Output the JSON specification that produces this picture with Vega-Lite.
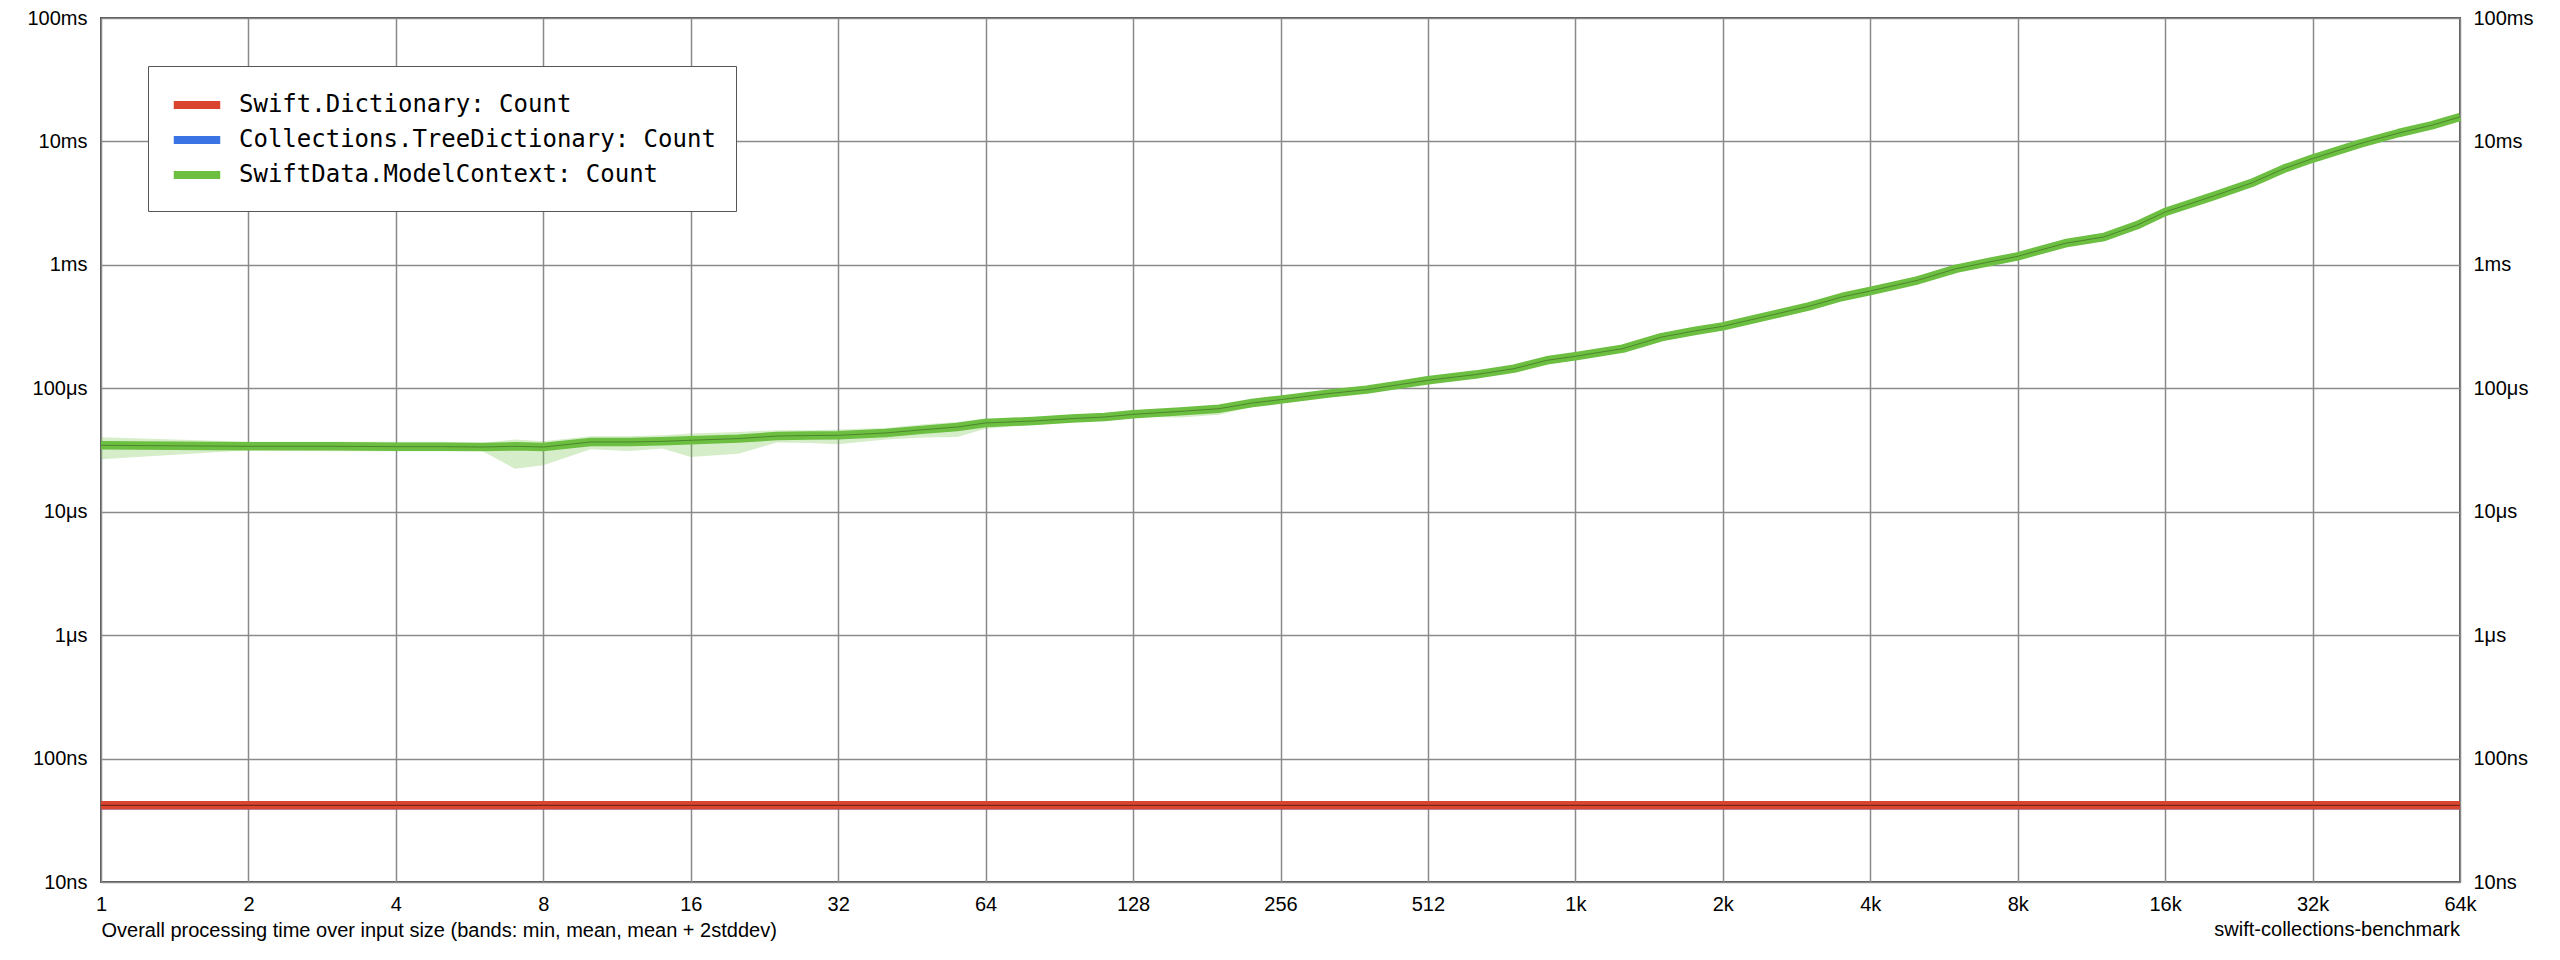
{
  "$schema": "https://vega.github.io/schema/vega-lite/v6.json",
  "width": 2359,
  "height": 864,
  "autosize": {"type": "none"},
  "padding": {"left": 101, "top": 18, "right": 100, "bottom": 78},
  "background": "white",
  "config": {
    "view": {"stroke": "#555", "strokeWidth": 2},
    "font": "Liberation Sans",
    "legend": {
      "orient": "none",
      "legendX": 47,
      "legendY": 48,
      "title": null,
      "fillColor": "white",
      "strokeColor": "#555",
      "padding": 20,
      "symbolType": "M-1.55,0H1.55",
      "symbolSize": 900,
      "symbolStrokeWidth": 8,
      "symbolOpacity": 1,
      "symbolOffset": 10,
      "labelOffset": 23,
      "rowPadding": 0,
      "labelFont": "DejaVu Sans Mono",
      "labelFontSize": 24,
      "labelColor": "#000",
      "labelLimit": 1000
    }
  },
  "title": {
    "text": "swift-collections-benchmark",
    "orient": "bottom",
    "anchor": "end",
    "frame": "group",
    "offset": -20,
    "fontSize": 20,
    "fontWeight": "normal",
    "font": "Liberation Sans",
    "color": "#000"
  },
  "data": {
    "values": [
      {"series": "Collections.TreeDictionary: Count", "n": 1, "mean": 41.8, "min": 41.0, "max": 42.6},
      {"series": "Collections.TreeDictionary: Count", "n": 2, "mean": 41.8, "min": 41.0, "max": 42.6},
      {"series": "Collections.TreeDictionary: Count", "n": 4, "mean": 41.8, "min": 41.0, "max": 42.6},
      {"series": "Collections.TreeDictionary: Count", "n": 8, "mean": 41.8, "min": 41.0, "max": 42.6},
      {"series": "Collections.TreeDictionary: Count", "n": 16, "mean": 41.8, "min": 41.0, "max": 42.6},
      {"series": "Collections.TreeDictionary: Count", "n": 32, "mean": 41.8, "min": 41.0, "max": 42.6},
      {"series": "Collections.TreeDictionary: Count", "n": 64, "mean": 41.8, "min": 41.0, "max": 42.6},
      {"series": "Collections.TreeDictionary: Count", "n": 128, "mean": 41.8, "min": 41.0, "max": 42.6},
      {"series": "Collections.TreeDictionary: Count", "n": 256, "mean": 41.8, "min": 41.0, "max": 42.6},
      {"series": "Collections.TreeDictionary: Count", "n": 512, "mean": 41.8, "min": 41.0, "max": 42.6},
      {"series": "Collections.TreeDictionary: Count", "n": 1024, "mean": 41.8, "min": 41.0, "max": 42.6},
      {"series": "Collections.TreeDictionary: Count", "n": 2048, "mean": 41.8, "min": 41.0, "max": 42.6},
      {"series": "Collections.TreeDictionary: Count", "n": 4096, "mean": 41.8, "min": 41.0, "max": 42.6},
      {"series": "Collections.TreeDictionary: Count", "n": 8192, "mean": 41.8, "min": 41.0, "max": 42.6},
      {"series": "Collections.TreeDictionary: Count", "n": 16384, "mean": 41.8, "min": 41.0, "max": 42.6},
      {"series": "Collections.TreeDictionary: Count", "n": 32768, "mean": 41.8, "min": 41.0, "max": 42.6},
      {"series": "Collections.TreeDictionary: Count", "n": 65536, "mean": 41.8, "min": 41.0, "max": 42.6},
      {"series": "Swift.Dictionary: Count", "n": 1, "mean": 41.8, "min": 41.0, "max": 42.6},
      {"series": "Swift.Dictionary: Count", "n": 2, "mean": 41.8, "min": 41.0, "max": 42.6},
      {"series": "Swift.Dictionary: Count", "n": 4, "mean": 41.8, "min": 41.0, "max": 42.6},
      {"series": "Swift.Dictionary: Count", "n": 8, "mean": 41.8, "min": 41.0, "max": 42.6},
      {"series": "Swift.Dictionary: Count", "n": 16, "mean": 41.8, "min": 41.0, "max": 42.6},
      {"series": "Swift.Dictionary: Count", "n": 32, "mean": 41.8, "min": 41.0, "max": 42.6},
      {"series": "Swift.Dictionary: Count", "n": 64, "mean": 41.8, "min": 41.0, "max": 42.6},
      {"series": "Swift.Dictionary: Count", "n": 128, "mean": 41.8, "min": 41.0, "max": 42.6},
      {"series": "Swift.Dictionary: Count", "n": 256, "mean": 41.8, "min": 41.0, "max": 42.6},
      {"series": "Swift.Dictionary: Count", "n": 512, "mean": 41.8, "min": 41.0, "max": 42.6},
      {"series": "Swift.Dictionary: Count", "n": 1024, "mean": 41.8, "min": 41.0, "max": 42.6},
      {"series": "Swift.Dictionary: Count", "n": 2048, "mean": 41.8, "min": 41.0, "max": 42.6},
      {"series": "Swift.Dictionary: Count", "n": 4096, "mean": 41.8, "min": 41.0, "max": 42.6},
      {"series": "Swift.Dictionary: Count", "n": 8192, "mean": 41.8, "min": 41.0, "max": 42.6},
      {"series": "Swift.Dictionary: Count", "n": 16384, "mean": 41.8, "min": 41.0, "max": 42.6},
      {"series": "Swift.Dictionary: Count", "n": 32768, "mean": 41.8, "min": 41.0, "max": 42.6},
      {"series": "Swift.Dictionary: Count", "n": 65536, "mean": 41.8, "min": 41.0, "max": 42.6},
      {"series": "SwiftData.ModelContext: Count", "n": 1, "mean": 34510, "min": 26600, "max": 40100},
      {"series": "SwiftData.ModelContext: Count", "n": 2, "mean": 33880, "min": 31500, "max": 36800},
      {"series": "SwiftData.ModelContext: Count", "n": 3, "mean": 33880, "min": 30860, "max": 36800},
      {"series": "SwiftData.ModelContext: Count", "n": 4, "mean": 33650, "min": 30860, "max": 36800},
      {"series": "SwiftData.ModelContext: Count", "n": 5, "mean": 33650, "min": 30860, "max": 36800},
      {"series": "SwiftData.ModelContext: Count", "n": 6, "mean": 33430, "min": 31050, "max": 36040},
      {"series": "SwiftData.ModelContext: Count", "n": 7, "mean": 33880, "min": 22340, "max": 38400},
      {"series": "SwiftData.ModelContext: Count", "n": 8, "mean": 33430, "min": 23770, "max": 37170},
      {"series": "SwiftData.ModelContext: Count", "n": 10, "mean": 36720, "min": 32050, "max": 40830},
      {"series": "SwiftData.ModelContext: Count", "n": 12, "mean": 36720, "min": 31050, "max": 40830},
      {"series": "SwiftData.ModelContext: Count", "n": 14, "mean": 37170, "min": 32460, "max": 41600},
      {"series": "SwiftData.ModelContext: Count", "n": 16, "mean": 37920, "min": 27730, "max": 42950},
      {"series": "SwiftData.ModelContext: Count", "n": 20, "mean": 39100, "min": 29550, "max": 44260},
      {"series": "SwiftData.ModelContext: Count", "n": 24, "mean": 41040, "min": 36310, "max": 45700},
      {"series": "SwiftData.ModelContext: Count", "n": 28, "mean": 41400, "min": 36040, "max": 45700},
      {"series": "SwiftData.ModelContext: Count", "n": 32, "mean": 41600, "min": 35140, "max": 46250},
      {"series": "SwiftData.ModelContext: Count", "n": 40, "mean": 43450, "min": 38400, "max": 47650},
      {"series": "SwiftData.ModelContext: Count", "n": 48, "mean": 46250, "min": 39840, "max": 51050},
      {"series": "SwiftData.ModelContext: Count", "n": 56, "mean": 48530, "min": 40300, "max": 53300},
      {"series": "SwiftData.ModelContext: Count", "n": 64, "mean": 52360, "min": 47100, "max": 56800},
      {"series": "SwiftData.ModelContext: Count", "n": 80, "mean": 54330, "min": 50500, "max": 56500},
      {"series": "SwiftData.ModelContext: Count", "n": 96, "mean": 56800, "min": 53000, "max": 58800},
      {"series": "SwiftData.ModelContext: Count", "n": 112, "mean": 58500, "min": 55500, "max": 60500},
      {"series": "SwiftData.ModelContext: Count", "n": 128, "mean": 61500, "min": 58800, "max": 63500},
      {"series": "SwiftData.ModelContext: Count", "n": 160, "mean": 65000, "min": 58000, "max": 67200},
      {"series": "SwiftData.ModelContext: Count", "n": 192, "mean": 68400, "min": 61000, "max": 70800},
      {"series": "SwiftData.ModelContext: Count", "n": 224, "mean": 76000, "min": 71000, "max": 78300},
      {"series": "SwiftData.ModelContext: Count", "n": 256, "mean": 80900, "min": 78200, "max": 83500},
      {"series": "SwiftData.ModelContext: Count", "n": 320, "mean": 90500, "min": 87500, "max": 96000},
      {"series": "SwiftData.ModelContext: Count", "n": 384, "mean": 97500, "min": 94300, "max": 103000},
      {"series": "SwiftData.ModelContext: Count", "n": 448, "mean": 107100, "min": 103500, "max": 111000},
      {"series": "SwiftData.ModelContext: Count", "n": 512, "mean": 116100, "min": 112300, "max": 120000},
      {"series": "SwiftData.ModelContext: Count", "n": 640, "mean": 129100, "min": 125000, "max": 133000},
      {"series": "SwiftData.ModelContext: Count", "n": 768, "mean": 144300, "min": 140000, "max": 148600},
      {"series": "SwiftData.ModelContext: Count", "n": 896, "mean": 168600, "min": 163500, "max": 173700},
      {"series": "SwiftData.ModelContext: Count", "n": 1024, "mean": 181600, "min": 176000, "max": 187000},
      {"series": "SwiftData.ModelContext: Count", "n": 1280, "mean": 209600, "min": 203300, "max": 215900},
      {"series": "SwiftData.ModelContext: Count", "n": 1536, "mean": 260000, "min": 252200, "max": 267800},
      {"series": "SwiftData.ModelContext: Count", "n": 1792, "mean": 290900, "min": 282200, "max": 299600},
      {"series": "SwiftData.ModelContext: Count", "n": 2048, "mean": 317700, "min": 308200, "max": 327200},
      {"series": "SwiftData.ModelContext: Count", "n": 2560, "mean": 390000, "min": 378300, "max": 401700},
      {"series": "SwiftData.ModelContext: Count", "n": 3072, "mean": 461400, "min": 447600, "max": 475200},
      {"series": "SwiftData.ModelContext: Count", "n": 3584, "mean": 549200, "min": 532700, "max": 565700},
      {"series": "SwiftData.ModelContext: Count", "n": 4096, "mean": 614100, "min": 595700, "max": 632500},
      {"series": "SwiftData.ModelContext: Count", "n": 5120, "mean": 749800, "min": 727300, "max": 772300},
      {"series": "SwiftData.ModelContext: Count", "n": 6144, "mean": 933200, "min": 905200, "max": 961200},
      {"series": "SwiftData.ModelContext: Count", "n": 7168, "mean": 1055000, "min": 1023000, "max": 1087000},
      {"series": "SwiftData.ModelContext: Count", "n": 8192, "mean": 1173000, "min": 1138000, "max": 1208000},
      {"series": "SwiftData.ModelContext: Count", "n": 10240, "mean": 1495000, "min": 1450000, "max": 1540000},
      {"series": "SwiftData.ModelContext: Count", "n": 12288, "mean": 1682000, "min": 1632000, "max": 1745000},
      {"series": "SwiftData.ModelContext: Count", "n": 14336, "mean": 2091000, "min": 2028000, "max": 2154000},
      {"series": "SwiftData.ModelContext: Count", "n": 16384, "mean": 2680000, "min": 2600000, "max": 2760000},
      {"series": "SwiftData.ModelContext: Count", "n": 20480, "mean": 3590000, "min": 3482000, "max": 3698000},
      {"series": "SwiftData.ModelContext: Count", "n": 24576, "mean": 4600000, "min": 4462000, "max": 4738000},
      {"series": "SwiftData.ModelContext: Count", "n": 28672, "mean": 6024000, "min": 5843000, "max": 6205000},
      {"series": "SwiftData.ModelContext: Count", "n": 32768, "mean": 7258000, "min": 7040000, "max": 7476000},
      {"series": "SwiftData.ModelContext: Count", "n": 40960, "mean": 9600000, "min": 9312000, "max": 9888000},
      {"series": "SwiftData.ModelContext: Count", "n": 49152, "mean": 11700000, "min": 11350000, "max": 12050000},
      {"series": "SwiftData.ModelContext: Count", "n": 57344, "mean": 13510000, "min": 13100000, "max": 13920000},
      {"series": "SwiftData.ModelContext: Count", "n": 65536, "mean": 15780000, "min": 15310000, "max": 16250000}
    ]
  },
  "encoding": {
    "x": {
      "field": "n",
      "type": "quantitative",
      "scale": {"type": "log", "base": 2, "domain": [1, 65536], "nice": false},
      "axis": {
        "values": [1, 2, 4, 8, 16, 32, 64, 128, 256, 512, 1024, 2048, 4096, 8192, 16384, 32768, 65536],
        "labelExpr": "datum.value >= 1024 ? round(datum.value / 1024) + 'k' : '' + datum.value",
        "grid": true,
        "gridColor": "#8a8a8a",
        "gridWidth": 1.5,
        "domain": false,
        "ticks": false,
        "labelFlush": false,
        "labelOverlap": false,
        "labelBound": false,
        "labelPadding": 12,
        "labelFontSize": 20,
        "labelColor": "#000",
        "labelFont": "Liberation Sans",
        "title": "Overall processing time over input size (bands: min, mean, mean + 2stddev)",
        "titleAnchor": "start",
        "titleAlign": "left",
        "titleFontWeight": "normal",
        "titleFontSize": 20,
        "titleFont": "Liberation Sans",
        "titleColor": "#000",
        "titlePadding": 6
      }
    }
  },
  "layer": [
    {
      "mark": {"type": "area", "fillOpacity": 0.28},
      "encoding": {
        "y": {"field": "min", "type": "quantitative", "scale": {"type": "log", "domain": [10, 100000000], "nice": false},
          "axis": {
            "orient": "left",
            "values": [10, 100, 1000, 10000, 100000, 1000000, 10000000, 100000000],
            "labelExpr": "datum.value >= 1000000 ? round(datum.value / 1000000) + 'ms' : datum.value >= 1000 ? round(datum.value / 1000) + 'μs' : round(datum.value) + 'ns'",
            "grid": true,
            "gridColor": "#8a8a8a",
            "gridWidth": 1.5,
            "domain": false,
            "ticks": false,
            "labelPadding": 14,
            "labelFontSize": 20,
            "labelColor": "#000",
            "labelFont": "Liberation Sans",
            "title": null
          }
        },
        "y2": {"field": "max"},
        "fill": {
          "field": "series",
          "type": "nominal",
          "scale": {
            "domain": ["Swift.Dictionary: Count", "Collections.TreeDictionary: Count", "SwiftData.ModelContext: Count"],
            "range": ["#d9452f", "#3a74e4", "#6cbf40"]
          }
        }
      }
    },
    {
      "mark": {"type": "line", "strokeWidth": 8.5, "strokeJoin": "round"},
      "encoding": {
        "y": {"field": "mean", "type": "quantitative", "axis": null},
        "color": {
          "field": "series",
          "type": "nominal",
          "scale": {
            "domain": ["Swift.Dictionary: Count", "Collections.TreeDictionary: Count", "SwiftData.ModelContext: Count"],
            "range": ["#d9452f", "#3a74e4", "#6cbf40"]
          }
        }
      }
    },
    {
      "mark": {"type": "line", "strokeWidth": 1, "color": "#000", "opacity": 0.3},
      "encoding": {
        "y": {"field": "mean", "type": "quantitative",
          "axis": {
            "orient": "right",
            "values": [10, 100, 1000, 10000, 100000, 1000000, 10000000, 100000000],
            "labelExpr": "datum.value >= 1000000 ? round(datum.value / 1000000) + 'ms' : datum.value >= 1000 ? round(datum.value / 1000) + 'μs' : round(datum.value) + 'ns'",
            "grid": false,
            "domain": false,
            "ticks": false,
            "labelPadding": 13,
            "labelFontSize": 20,
            "labelColor": "#000",
            "labelFont": "Liberation Sans",
            "title": null
          }
        },
        "detail": {"field": "series", "type": "nominal"}
      }
    }
  ],
  "resolve": {"axis": {"y": "independent"}}
}
